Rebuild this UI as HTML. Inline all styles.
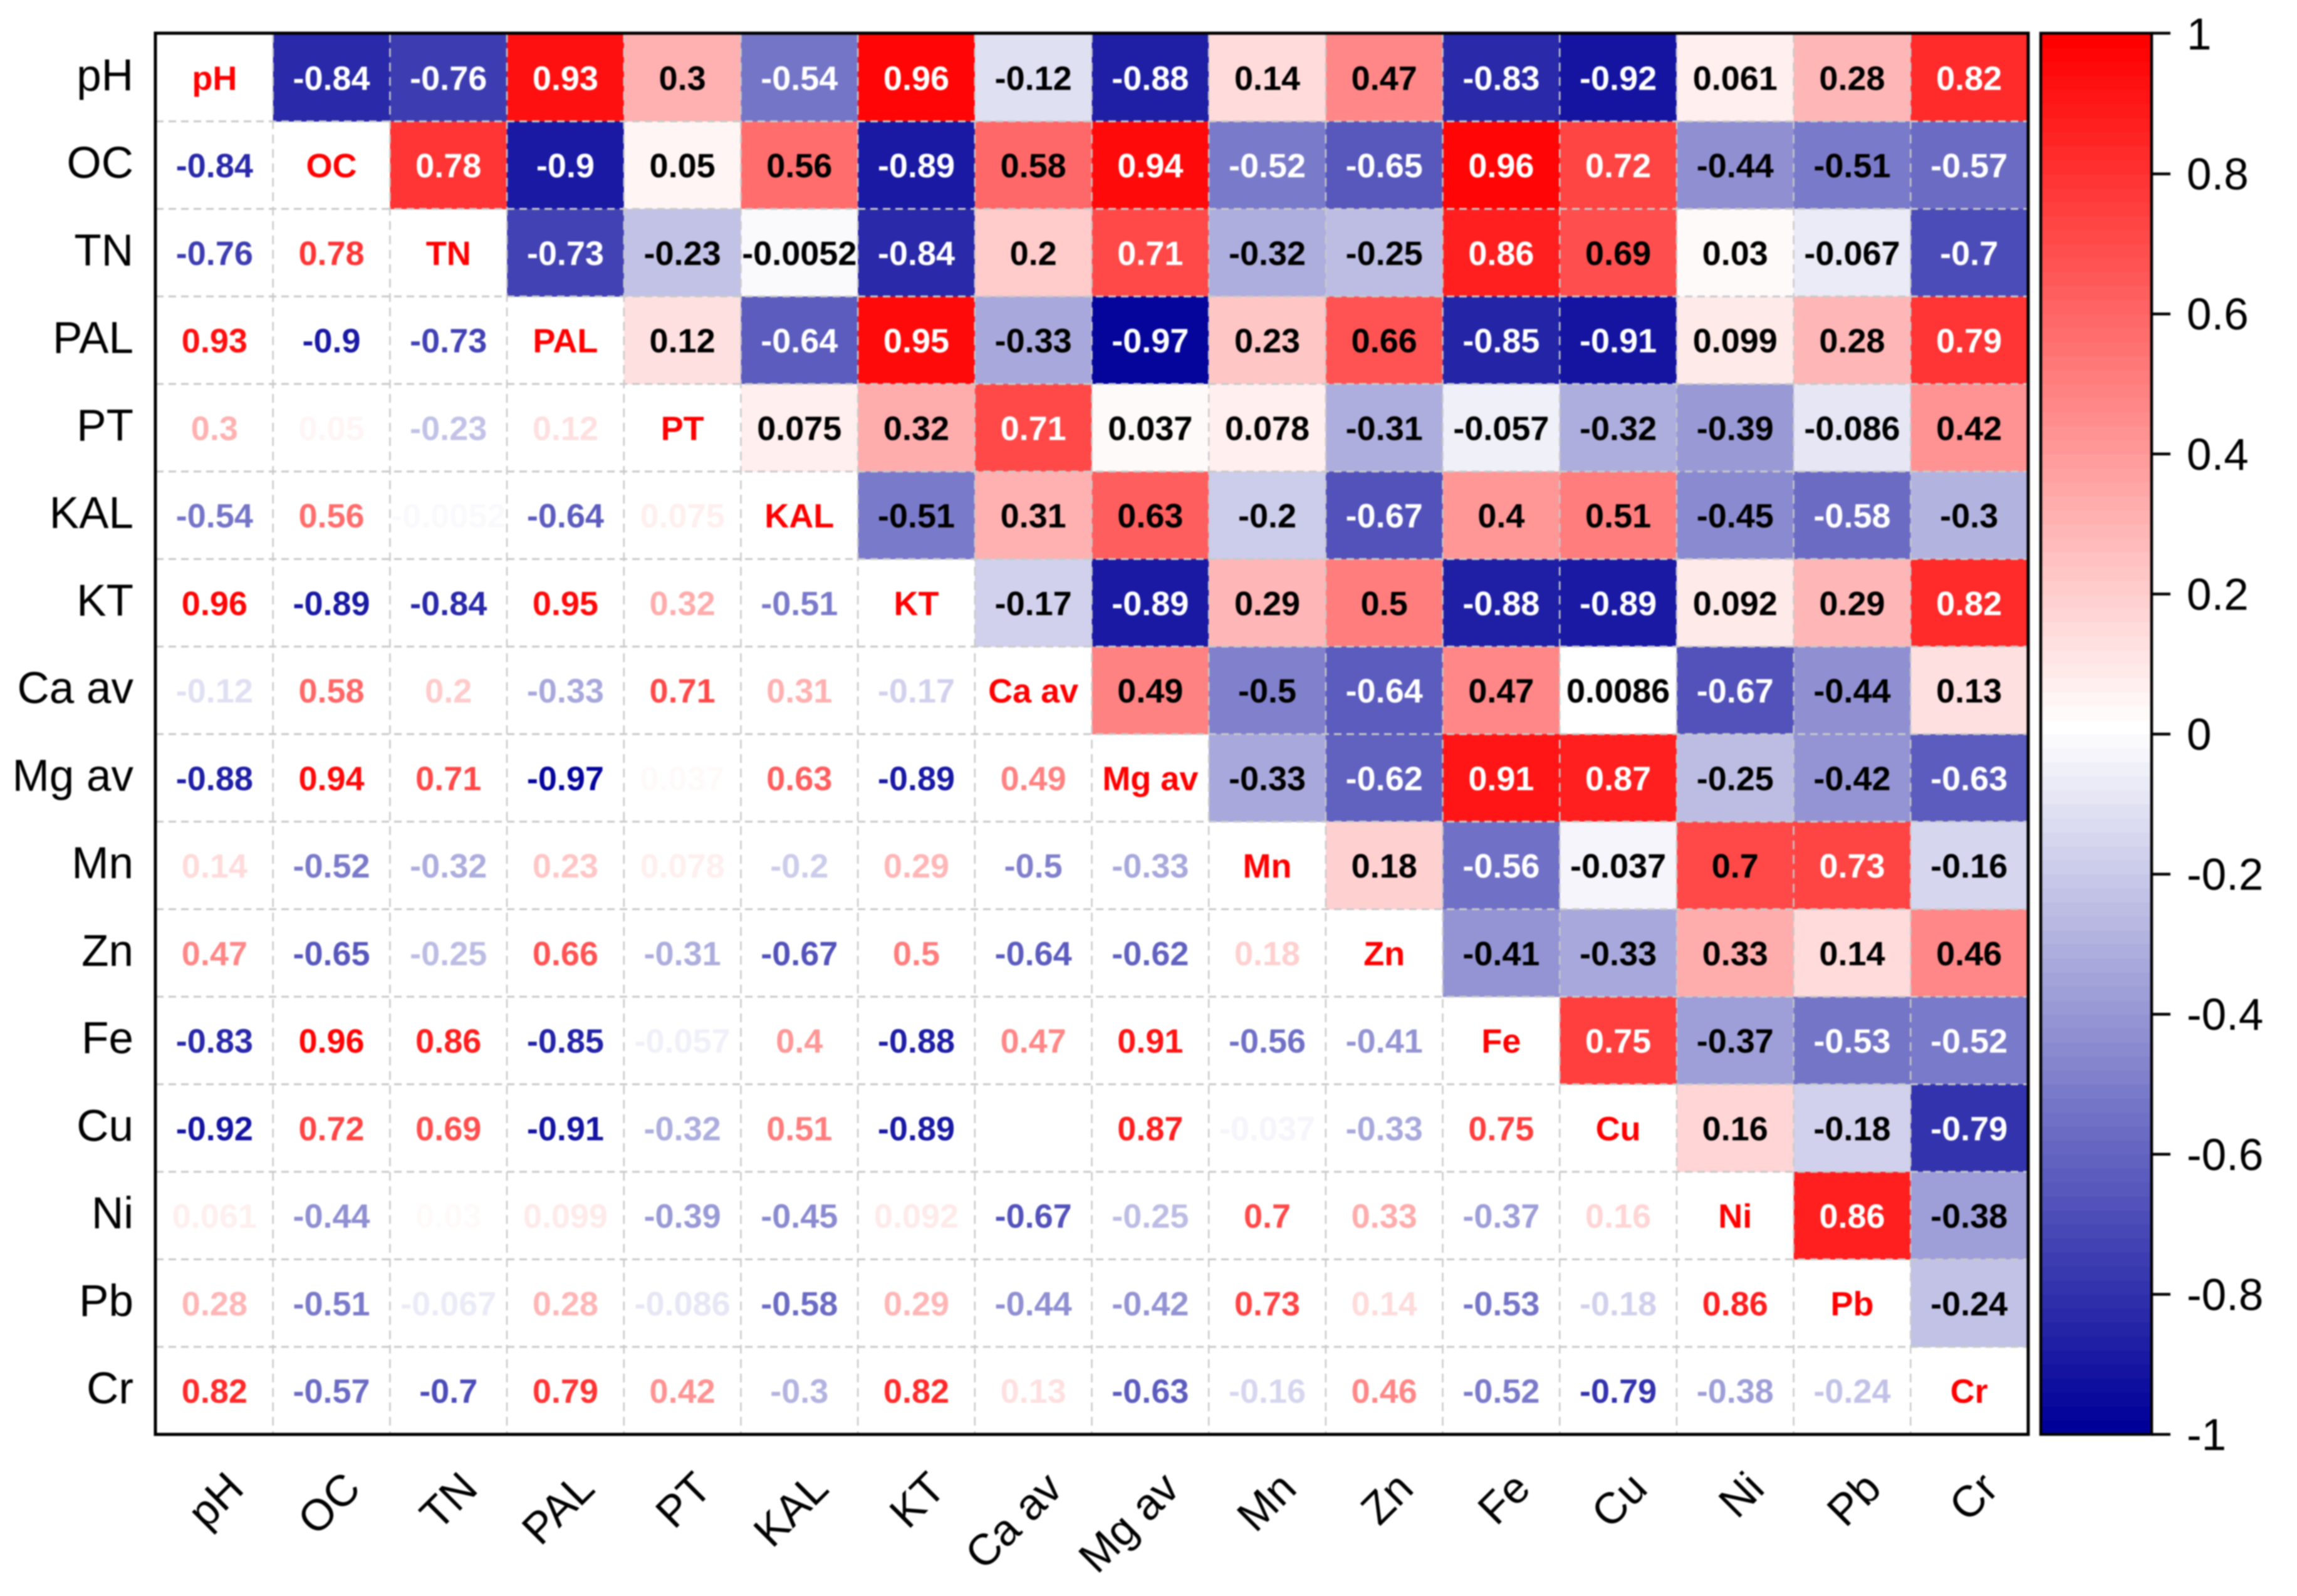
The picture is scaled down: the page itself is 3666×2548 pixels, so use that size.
<!DOCTYPE html>
<html lang="en">
<head>
<meta charset="utf-8">
<title>Correlation matrix heatmap</title>
<style>
html,body{margin:0;padding:0;background:#fff;width:3666px;height:2548px;overflow:hidden}
#chart{display:block;filter:blur(1px)}
text{font-family:"Liberation Sans",Arial,sans-serif}
</style>
</head>
<body>
<svg id="chart" xmlns="http://www.w3.org/2000/svg" width="3666" height="2548" viewBox="0 0 3666 2548">
  <rect x="0" y="0" width="3666" height="2548" fill="#ffffff"/>
  <g id="cells"></g>
  <g id="grid"></g>
  <g id="values"></g>
  <rect id="plot-frame" fill="none" stroke="#000" stroke-width="5"/>
  <g id="y-labels"></g>
  <g id="x-labels"></g>
  <g id="cbar"></g>
</svg>
<script>
// ---- chart data ----
const categories = ['pH','OC','TN','PAL','PT','KAL','KT','Ca av','Mg av','Mn','Zn','Fe','Cu','Ni','Pb','Cr'];
// upper triangle of the correlation matrix: each row starts just right of the diagonal
const rowPH  = [-0.84,-0.76,0.93,0.3,-0.54,0.96,-0.12,-0.88,0.14,0.47,-0.83,-0.92,0.061,0.28,0.82];
const rowOC  = [0.78,-0.9,0.05,0.56,-0.89,0.58,0.94,-0.52,-0.65,0.96,0.72,-0.44,-0.51,-0.57];
const rowTN  = [-0.73,-0.23,-0.0052,-0.84,0.2,0.71,-0.32,-0.25,0.86,0.69,0.03,-0.067,-0.7];
const rowPAL = [0.12,-0.64,0.95,-0.33,-0.97,0.23,0.66,-0.85,-0.91,0.099,0.28,0.79];
const rowPT  = [0.075,0.32,0.71,0.037,0.078,-0.31,-0.057,-0.32,-0.39,-0.086,0.42];
const rowKAL = [-0.51,0.31,0.63,-0.2,-0.67,0.4,0.51,-0.45,-0.58,-0.3];
const rowKT  = [-0.17,-0.89,0.29,0.5,-0.88,-0.89,0.092,0.29,0.82];
const rowCa  = [0.49,-0.5,-0.64,0.47,0.0086,-0.67,-0.44,0.13];
const rowMg  = [-0.33,-0.62,0.91,0.87,-0.25,-0.42,-0.63];
const rowMn  = [0.18,-0.56,-0.037,0.7,0.73,-0.16];
const rowZn  = [-0.41,-0.33,0.33,0.14,0.46];
const rowFe  = [0.75,-0.37,-0.53,-0.52];
const rowCu  = [0.16,-0.18,-0.79];
const rowNi  = [0.86,-0.38];
const rowPb  = [-0.24];
const upperRows = [rowPH,rowOC,rowTN,rowPAL,rowPT,rowKAL,rowKT,rowCa,rowMg,rowMn,rowZn,rowFe,rowCu,rowNi,rowPb];
const colorbarTicks = [1,0.8,0.6,0.4,0.2,0,-0.2,-0.4,-0.6,-0.8,-1];
const colorbarLevels = 100;

// ---- axis functions ----
const NS = 'http://www.w3.org/2000/svg';
const plotLeft = 249, plotRight = 3236, plotTop = 54, plotBottom = 2290;
const cbLeft = 3257, cbRight = 3434, cbTickEnd = 3464;
const n = categories.length;
const colW = (plotRight - plotLeft) / n;
const rowH = (plotBottom - plotTop) / n;
const xAt = i => plotLeft + i * colW;
const yAt = i => plotTop + i * rowH;
const cbY = v => plotTop + (1 - v) / 2 * (plotBottom - plotTop);
const levelW = 2 / colorbarLevels;
// colours come in discrete levels, each level painted with its lower edge
function levelColor(lo) {
  const mapped = lo >= 0 ? lo / (1 - levelW) : lo;
  const t = Math.min(1, Math.abs(mapped));
  if (mapped >= 0) {
    const c = Math.round(255 * (1 - t));
    return 'rgb(255,' + c + ',' + c + ')';
  }
  const r = Math.round(255 * (1 - t));
  const b = Math.round(255 - 102 * t);
  return 'rgb(' + r + ',' + r + ',' + b + ')';
}
function colorOf(v) {
  return levelColor(Math.floor(v / levelW + 1e-9) * levelW);
}
function make(tag, attrs, parent, content) {
  const el = document.createElementNS(NS, tag);
  for (const k in attrs) el.setAttribute(k, attrs[k]);
  if (content !== undefined) el.textContent = content;
  parent.appendChild(el);
  return el;
}
function valueAt(r, c) {
  if (r === c) return null;
  return r < c ? upperRows[r][c - r - 1] : upperRows[c][r - c - 1];
}

const cellsG = document.getElementById('cells');
const gridG = document.getElementById('grid');
const valuesG = document.getElementById('values');
const yG = document.getElementById('y-labels');
const xG = document.getElementById('x-labels');
const cbG = document.getElementById('cbar');

// ---- frame ----
const frame = document.getElementById('plot-frame');
frame.setAttribute('x', plotLeft - 1);
frame.setAttribute('y', plotTop - 1);
frame.setAttribute('width', plotRight - plotLeft + 2);
frame.setAttribute('height', plotBottom - plotTop + 1);

// ---- cells and labels ----
for (let r = 0; r < n; r++) {
  for (let c = 0; c < n; c++) {
    const cx = xAt(c) + colW / 2;
    const cy = yAt(r) + rowH / 2 + 19.5;
    const v = valueAt(r, c);
    if (v === null) {
      const diag = make('text', {x: cx, y: cy, 'text-anchor': 'middle', 'font-size': 54, 'font-weight': 'bold', fill: '#ff0000'}, valuesG, categories[r]);
      
      
      continue;
    }
    if (r < c) {
      const rect = make('rect', {x: xAt(c), y: yAt(r), width: colW + 0.5, height: rowH + 0.5, fill: colorOf(v)}, cellsG);
      
      
    }
    let fill;
    if (r < c) {
      fill = (v > 0.7 || v < -0.51) ? '#ffffff' : '#000000';
    } else {
      fill = colorOf(v);
    }
    const t = make('text', {x: cx, y: cy, 'text-anchor': 'middle', 'font-size': 54, 'font-weight': 'bold', fill: fill}, valuesG, String(v));
    
    
  }
}

// ---- dashed grid ----
for (let i = 1; i < n; i++) {
  const gh = make('line', {x1: plotLeft, x2: plotRight, y1: yAt(i), y2: yAt(i), stroke: '#c9c9c9', 'stroke-width': 3, 'stroke-dasharray': '12 8'}, gridG);
  
  
  const gv = make('line', {x1: xAt(i), x2: xAt(i), y1: plotTop, y2: plotBottom, stroke: '#c9c9c9', 'stroke-width': 2.5, 'stroke-dasharray': '14 9'}, gridG);
  
  
}

// ---- axis labels ----
categories.forEach((name, i) => {
  const yl = make('text', {x: 213, y: yAt(i) + rowH / 2 + 20.5, 'text-anchor': 'end', 'font-size': 71, fill: '#000'}, yG, name);
  
  
  const ax = xAt(i) + colW / 2 + 50;
  const ay = 2380;
  const xl = make('text', {x: ax, y: ay, 'text-anchor': 'end', 'font-size': 70, fill: '#000', transform: 'rotate(-45 ' + ax + ' ' + ay + ')'}, xG, name);
  
  
});

// ---- colorbar ----
for (let i = 0; i < colorbarLevels; i++) {
  const lo = -1 + levelW * i;
  const hi = lo + levelW;
  const band = make('rect', {x: cbLeft, y: cbY(hi), width: cbRight - cbLeft, height: cbY(lo) - cbY(hi) + 0.5, fill: levelColor(Math.abs(lo) < 1e-9 ? 0 : lo)}, cbG);
  
  
}
const cbFrame = make('rect', {x: cbLeft, y: plotTop - 1, width: cbRight - cbLeft, height: plotBottom - plotTop + 1, fill: 'none', stroke: '#000', 'stroke-width': 4.5}, cbG);


colorbarTicks.forEach(v => {
  const y = v === 1 ? plotTop - 1 : cbY(v);
  const tick = make('line', {x1: cbRight, x2: cbTickEnd, y1: y, y2: y, stroke: '#000', 'stroke-width': 4.5}, cbG);
  
  
  const label = make('text', {x: 3490, y: cbY(v) + 25, 'font-size': 71, fill: '#000'}, cbG, String(v));
  
  
});
</script>
</body>
</html>
